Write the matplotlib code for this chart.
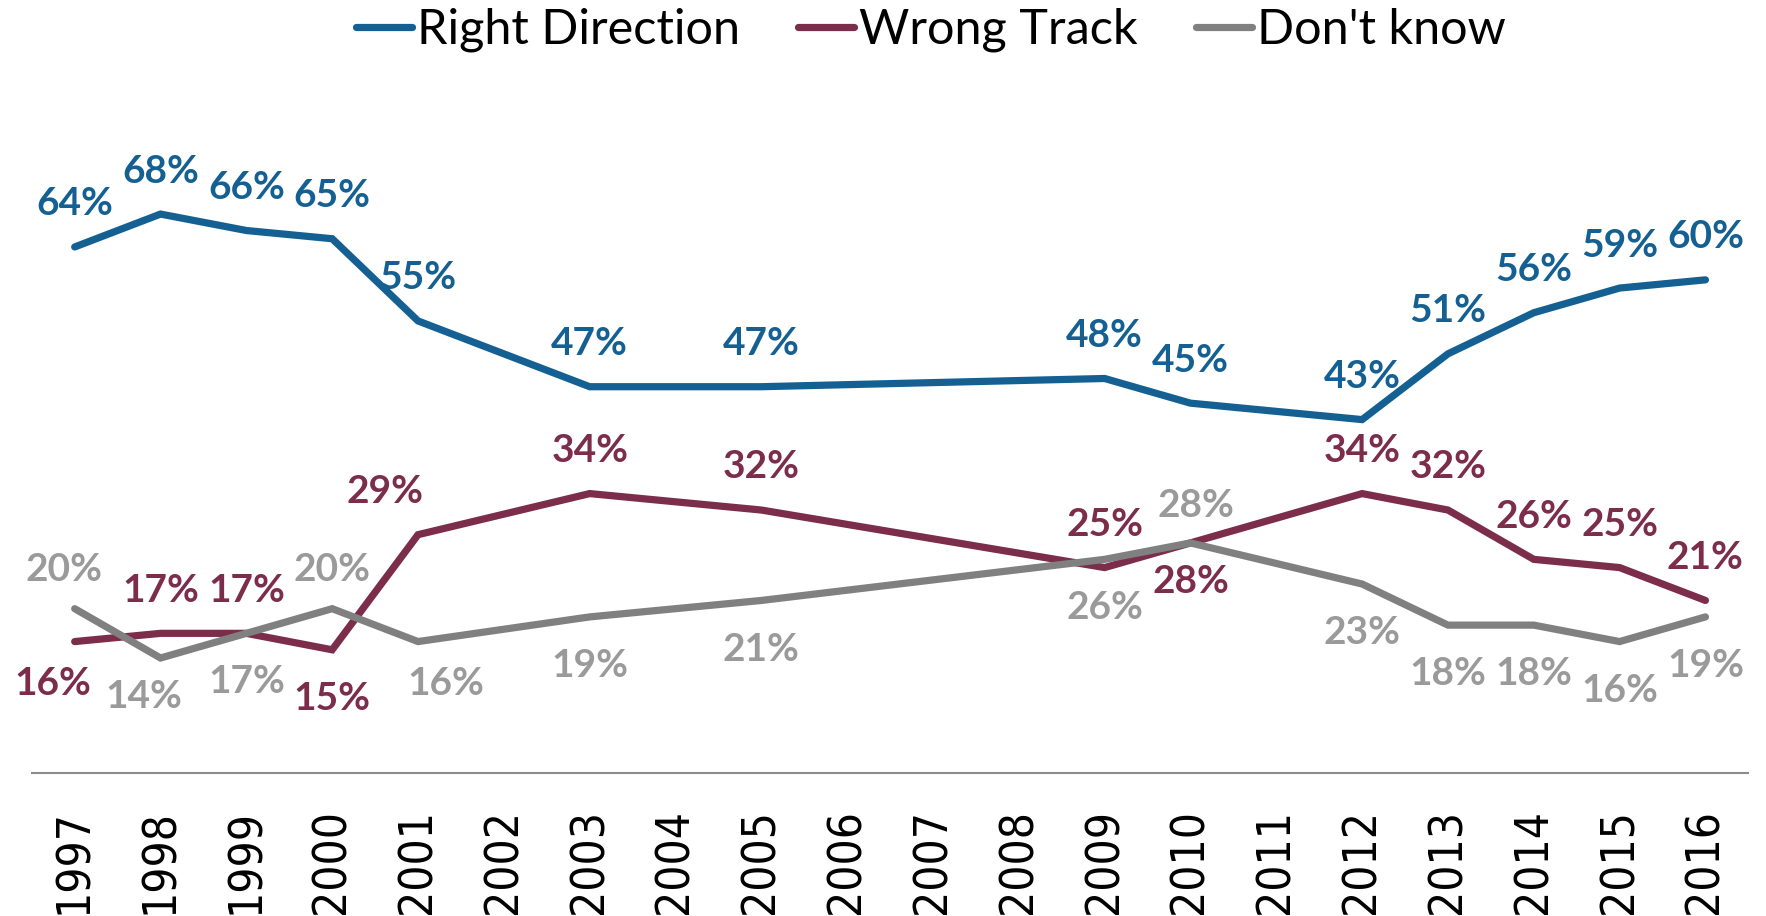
import matplotlib
matplotlib.use("Agg")
import matplotlib.pyplot as plt
from matplotlib import font_manager

# ---- data ----
years = [str(y) for y in range(1997, 2017)]
right_years = [1997, 1998, 1999, 2000, 2001, 2003, 2005, 2009, 2010, 2012, 2013, 2014, 2015, 2016]
right_direction = [64, 68, 66, 65, 55, 47, 47, 48, 45, 43, 51, 56, 59, 60]
wrong_track = [16, 17, 17, 15, 29, 34, 32, 25, 28, 34, 32, 26, 25, 21]
dont_know = [20, 14, 17, 20, 16, 19, 21, 26, 28, 23, 18, 18, 16, 19]
series_names = ["Right Direction", "Wrong Track", "Don't know"]

# ---- styles / label offsets (points) ----
colors = ["#156092", "#7B2D4A", "#808080"]
label_colors = ["#156092", "#7B2D4A", "#9A9A9A"]
UP, DN = 31, -35
right_off = [(0, UP)] * 14
wrong_off = [(-16, -30), (0, UP), (0, UP), (0, DN), (-24, UP), (0, UP), (0, UP),
             (0, UP), (0, -28), (0, UP), (0, UP), (0, UP), (0, UP), (0, UP)]
dk_off = [(-8, 28), (-12, -28), (0, DN), (0, 28), (20, -30), (0, DN), (0, DN),
          (0, DN), (4, 27), (0, DN), (0, DN), (0, DN), (0, DN), (0, DN)]

has_cond = any(f.name == "DejaVu Sans" and f.stretch == "condensed"
               for f in font_manager.fontManager.ttflist)
tick_kw = dict(family="DejaVu Sans", stretch="condensed", fontsize=33) if has_cond \
    else dict(family="DejaVu Sans", fontsize=29)

fig = plt.figure(figsize=(17.66, 9.16), dpi=100)
ax = fig.add_axes([0.018, 0.156, 0.972, 0.718])

xpos = [years.index(str(y)) for y in right_years]
all_vals = [right_direction, wrong_track, dont_know]
all_offs = [right_off, wrong_off, dk_off]
lines = []
for name, vals, col, lcol, offs in zip(series_names, all_vals, colors, label_colors, all_offs):
    ln, = ax.plot(xpos, vals, color=col, lw=5.2, solid_capstyle="round",
                  solid_joinstyle="miter", label=name)
    lines.append(ln)
    for x, v, (dx, dy) in zip(xpos, vals, offs):
        ax.annotate(f"{v}%", (x, v), xytext=(dx, dy), textcoords="offset points",
                    ha="center", va="center", fontsize=28, fontweight="bold",
                    color=lcol, family="Lato")

ax.set_xlim(-0.5, len(years) - 0.5)
ax.set_ylim(0, 80)
ax.set_xticks(range(len(years)))
ax.set_xticklabels(years, rotation=90, **tick_kw)
ax.tick_params(axis="x", length=0, pad=26)
ax.set_yticks([])
for s in ["left", "right", "top"]:
    ax.spines[s].set_visible(False)
ax.spines["bottom"].set_color("#8C8C8C")
ax.spines["bottom"].set_linewidth(1.5)

fig.legend(handles=lines, loc="center", bbox_to_anchor=(0.527, 0.967), ncol=3,
           frameon=False, prop={"family": "Lato", "size": 35},
           handlelength=1.15, handletextpad=0.1, columnspacing=1.2)

fig.savefig("out.png", dpi=100)
